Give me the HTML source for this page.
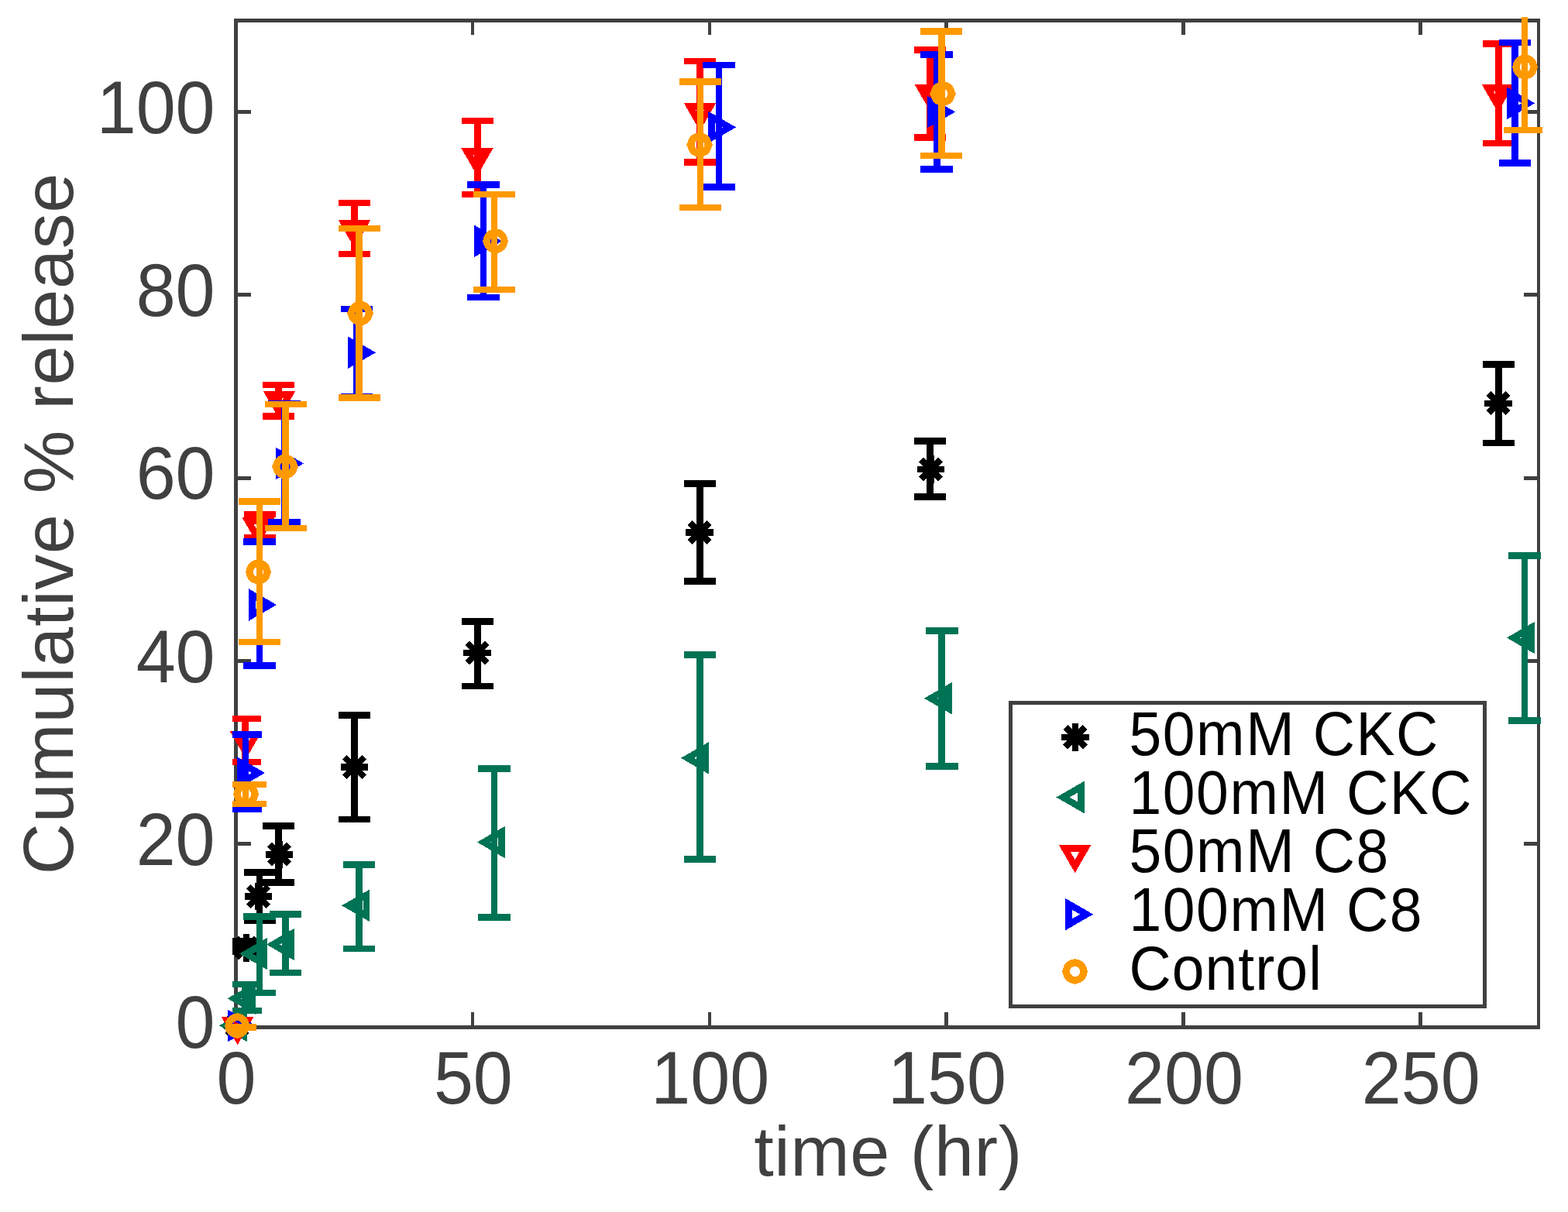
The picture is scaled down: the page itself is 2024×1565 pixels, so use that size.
<!DOCTYPE html>
<html lang="en">
<head>
<meta charset="utf-8">
<title>Cumulative % release vs time (hr)</title>
<style>
html,body{margin:0;padding:0;background:#ffffff;}
body{width:2024px;height:1565px;overflow:hidden;}
svg{display:block;}
text{font-family:"Liberation Sans","DejaVu Sans",sans-serif;}
.tick{font-size:91.67px;fill:#404040;}
.lab{font-size:91.67px;fill:#404040;}
.leg{font-size:75px;fill:#000000;}
</style>
</head>
<body>
<svg width="2024" height="1565" viewBox="0 0 2024 1565">
<defs><clipPath id="axclip"><rect x="299.9" y="22.0" width="1691.2" height="1309"/></clipPath></defs>
<rect x="0" y="0" width="2024" height="1565" fill="#ffffff"/>

<g fill="#404040">
<rect x="302" y="24" width="1686" height="5"/>
<rect x="302" y="1324" width="1686" height="5"/>
<rect x="302" y="24" width="5" height="1305"/>
<rect x="1984" y="24" width="4" height="1305"/>
<rect x="608" y="1307" width="4" height="17"/>
<rect x="608" y="29" width="4" height="16"/>
<rect x="914" y="1307" width="4" height="17"/>
<rect x="914" y="29" width="4" height="16"/>
<rect x="1219" y="1307" width="5" height="17"/>
<rect x="1219" y="29" width="5" height="16"/>
<rect x="1525" y="1307" width="5" height="17"/>
<rect x="1525" y="29" width="5" height="16"/>
<rect x="1831" y="1307" width="5" height="17"/>
<rect x="1831" y="29" width="5" height="16"/>
<rect x="307" y="1087" width="17" height="5"/>
<rect x="1967" y="1087" width="17" height="5"/>
<rect x="307" y="851" width="17" height="5"/>
<rect x="1967" y="851" width="17" height="5"/>
<rect x="307" y="615" width="17" height="5"/>
<rect x="1967" y="615" width="17" height="5"/>
<rect x="307" y="378" width="17" height="5"/>
<rect x="1967" y="378" width="17" height="5"/>
<rect x="307" y="142" width="17" height="5"/>
<rect x="1967" y="142" width="17" height="5"/>
</g>
<g class="tick" text-anchor="middle">
<text transform="translate(305 1424.7) scale(1 1.045)">0</text>
<text transform="translate(610.86 1424.7) scale(1 1.045)">50</text>
<text transform="translate(916.72 1424.7) scale(1 1.045)">100</text>
<text transform="translate(1222.58 1424.7) scale(1 1.045)">150</text>
<text transform="translate(1528.44 1424.7) scale(1 1.045)">200</text>
<text transform="translate(1834.3 1424.7) scale(1 1.045)">250</text>
</g>
<g class="tick" text-anchor="end">
<text transform="translate(277.6 1353.3) scale(1 1.045)">0</text>
<text transform="translate(277.6 1116.98) scale(1 1.045)">20</text>
<text transform="translate(277.6 880.66) scale(1 1.045)">40</text>
<text transform="translate(277.6 644.34) scale(1 1.045)">60</text>
<text transform="translate(277.6 408.02) scale(1 1.045)">80</text>
<text transform="translate(277.6 171.7) scale(1 1.045)">100</text>
</g>
<text class="lab" style="letter-spacing:0.6px" transform="translate(973.2 1517.6)">time (hr)</text>
<text class="lab" style="letter-spacing:0.74px" transform="translate(93.9 1129.3) rotate(-90)">Cumulative % release</text>
<g id="s-black" shape-rendering="crispEdges">
<path clip-path="url(#axclip)" d="M304.5 1326.5V1326.5M284 1326.5H325M284 1326.5H325M317.5 1215.6V1228.4M297 1215.6H338M297 1228.4H338M335 1126.5V1188.6M314.5 1126.5H355.5M314.5 1188.6H355.5M359.6 1066.5V1139.4M339.1 1066.5H380.1M339.1 1139.4H380.1M457.5 923.5V1057.9M437 923.5H478M437 1057.9H478M616.5 802.5V886M596 802.5H637M596 886H637M903.5 624.5V750.5M883 624.5H924M883 750.5H924M1200.5 569.5V641.5M1180 569.5H1221M1180 641.5H1221M1934.5 470.5V571.8M1914 470.5H1955M1914 571.8H1955" stroke="#000000" stroke-width="8.4" fill="none"/>
<path d="M288.5 1324.5H324.1M306.3 1306.7V1342.3M293.71 1311.91L318.89 1337.09M293.71 1337.09L318.89 1311.91" stroke="#000000" stroke-width="8.4" fill="none"/>
<path d="M300.2 1224H335.8M318 1206.2V1241.8M305.41 1211.41L330.59 1236.59M305.41 1236.59L330.59 1211.41" stroke="#000000" stroke-width="8.4" fill="none"/>
<path d="M315.7 1157.5H351.3M333.5 1139.7V1175.3M320.91 1144.91L346.09 1170.09M320.91 1170.09L346.09 1144.91" stroke="#000000" stroke-width="8.4" fill="none"/>
<path d="M342.7 1103.3H378.3M360.5 1085.5V1121.1M347.91 1090.71L373.09 1115.89M347.91 1115.89L373.09 1090.71" stroke="#000000" stroke-width="8.4" fill="none"/>
<path d="M439.7 990.5H475.3M457.5 972.7V1008.3M444.91 977.91L470.09 1003.09M444.91 1003.09L470.09 977.91" stroke="#000000" stroke-width="8.4" fill="none"/>
<path d="M598.2 843H633.8M616 825.2V860.8M603.41 830.41L628.59 855.59M603.41 855.59L628.59 830.41" stroke="#000000" stroke-width="8.4" fill="none"/>
<path d="M885.2 687.4H920.8M903 669.6V705.2M890.41 674.81L915.59 699.99M890.41 699.99L915.59 674.81" stroke="#000000" stroke-width="8.4" fill="none"/>
<path d="M1183.7 606H1219.3M1201.5 588.2V623.8M1188.91 593.41L1214.09 618.59M1188.91 618.59L1214.09 593.41" stroke="#000000" stroke-width="8.4" fill="none"/>
<path d="M1916.2 520.8H1951.8M1934 503V538.6M1921.41 508.21L1946.59 533.39M1921.41 533.39L1946.59 508.21" stroke="#000000" stroke-width="8.4" fill="none"/>
</g>
<g id="s-green" shape-rendering="crispEdges">
<path clip-path="url(#axclip)" d="M304.5 1326.5V1326.5M283.6 1326.5H325.4M283.6 1326.5H325.4M316.4 1271V1304.8M296.1 1271H337.9M296.1 1304.8H337.9M335 1183.6V1282M314.1 1183.6H355.9M314.1 1282H355.9M368.5 1180.5V1256M347.6 1180.5H389.4M347.6 1256H389.4M463.5 1116.5V1225M442.6 1116.5H484.4M442.6 1225H484.4M638 992.5V1184.5M617.1 992.5H658.9M617.1 1184.5H658.9M903.4 845.4V1109.5M882.5 845.4H924.3M882.5 1109.5H924.3M1215.6 814.4V989.5M1194.7 814.4H1236.5M1194.7 989.5H1236.5M1968 717.3V930.5M1947.1 717.3H1988.9M1947.1 930.5H1988.9" stroke="#007355" stroke-width="8.4" fill="none"/>
<polygon points="291.4,1324.3 314.65,1310.88 314.65,1337.72" stroke="#007355" stroke-width="8.6" stroke-linejoin="miter" stroke-miterlimit="10" fill="none"/>
<polygon points="302.2,1289.3 325.45,1275.88 325.45,1302.72" stroke="#007355" stroke-width="8.6" stroke-linejoin="miter" stroke-miterlimit="10" fill="none"/>
<polygon points="317.5,1231.5 340.75,1218.08 340.75,1244.92" stroke="#007355" stroke-width="8.6" stroke-linejoin="miter" stroke-miterlimit="10" fill="none"/>
<polygon points="352.5,1219.5 375.75,1206.08 375.75,1232.92" stroke="#007355" stroke-width="8.6" stroke-linejoin="miter" stroke-miterlimit="10" fill="none"/>
<polygon points="449.7,1169.3 472.95,1155.88 472.95,1182.72" stroke="#007355" stroke-width="8.6" stroke-linejoin="miter" stroke-miterlimit="10" fill="none"/>
<polygon points="624.5,1087.5 647.75,1074.08 647.75,1100.92" stroke="#007355" stroke-width="8.6" stroke-linejoin="miter" stroke-miterlimit="10" fill="none"/>
<polygon points="887.5,978.8 910.75,965.38 910.75,992.22" stroke="#007355" stroke-width="8.6" stroke-linejoin="miter" stroke-miterlimit="10" fill="none"/>
<polygon points="1201.5,901.7 1224.75,888.28 1224.75,915.12" stroke="#007355" stroke-width="8.6" stroke-linejoin="miter" stroke-miterlimit="10" fill="none"/>
<polygon points="1953.5,823.5 1976.75,810.08 1976.75,836.92" stroke="#007355" stroke-width="8.6" stroke-linejoin="miter" stroke-miterlimit="10" fill="none"/>
</g>
<g id="s-red" shape-rendering="crispEdges">
<path clip-path="url(#axclip)" d="M304.5 1326.5V1326.5M284 1326.5H325M284 1326.5H325M316.5 928V983.9M296 928H337M296 983.9H337M335 664V694.5M314.5 664H355.5M314.5 694.5H355.5M359.6 496.9V537.5M339.1 496.9H380.1M339.1 537.5H380.1M457.5 262V328M437 262H478M437 328H478M616.5 156V251M596 156H637M596 251H637M903.5 79V209.5M883 79H924M883 209.5H924M1200.5 64.4V177.5M1180 64.4H1221M1180 177.5H1221M1934.5 56.5V185M1914 56.5H1955M1914 185H1955" stroke="#ff0000" stroke-width="8.4" fill="none"/>
<polygon points="306.6,1340.5 293.18,1317.25 320.02,1317.25" stroke="#ff0000" stroke-width="8.6" stroke-linejoin="miter" stroke-miterlimit="10" fill="none"/>
<polygon points="317.4,971.5 303.98,948.25 330.82,948.25" stroke="#ff0000" stroke-width="8.6" stroke-linejoin="miter" stroke-miterlimit="10" fill="none"/>
<polygon points="333.5,696 320.08,672.75 346.92,672.75" stroke="#ff0000" stroke-width="8.6" stroke-linejoin="miter" stroke-miterlimit="10" fill="none"/>
<polygon points="360.5,532.5 347.08,509.25 373.92,509.25" stroke="#ff0000" stroke-width="8.6" stroke-linejoin="miter" stroke-miterlimit="10" fill="none"/>
<polygon points="457.5,311.5 444.08,288.25 470.92,288.25" stroke="#ff0000" stroke-width="8.6" stroke-linejoin="miter" stroke-miterlimit="10" fill="none"/>
<polygon points="616,218.5 602.58,195.25 629.42,195.25" stroke="#ff0000" stroke-width="8.6" stroke-linejoin="miter" stroke-miterlimit="10" fill="none"/>
<polygon points="903.5,160.5 890.08,137.25 916.92,137.25" stroke="#ff0000" stroke-width="8.6" stroke-linejoin="miter" stroke-miterlimit="10" fill="none"/>
<polygon points="1201.4,136.5 1187.98,113.25 1214.82,113.25" stroke="#ff0000" stroke-width="8.6" stroke-linejoin="miter" stroke-miterlimit="10" fill="none"/>
<polygon points="1933.5,136.5 1920.08,113.25 1946.92,113.25" stroke="#ff0000" stroke-width="8.6" stroke-linejoin="miter" stroke-miterlimit="10" fill="none"/>
</g>
<g id="s-blue" shape-rendering="crispEdges">
<path clip-path="url(#axclip)" d="M304.5 1326.5V1326.5M283.65 1326.5H325.35M283.65 1326.5H325.35M316.7 948.5V1044.4M295.85 948.5H337.55M295.85 1044.4H337.55M335 699.5V859.5M314.15 699.5H355.85M314.15 859.5H355.85M367.2 521.3V674M346.35 521.3H388.05M346.35 674H388.05M460.5 399V512.3M439.65 399H481.35M439.65 512.3H481.35M624 238.4V384M603.15 238.4H644.85M603.15 384H644.85M928 84V241.5M907.15 84H948.85M907.15 241.5H948.85M1209.3 70.5V218.4M1188.45 70.5H1230.15M1188.45 218.4H1230.15M1955.5 55V210.5M1934.65 55H1976.35M1934.65 210.5H1976.35" stroke="#0000ff" stroke-width="8.4" fill="none"/>
<polygon points="321.4,1324.5 298.15,1311.08 298.15,1337.92" stroke="#0000ff" stroke-width="8.6" stroke-linejoin="miter" stroke-miterlimit="10" fill="none"/>
<polygon points="333.5,998 310.25,984.58 310.25,1011.42" stroke="#0000ff" stroke-width="8.6" stroke-linejoin="miter" stroke-miterlimit="10" fill="none"/>
<polygon points="348.5,781 325.25,767.58 325.25,794.42" stroke="#0000ff" stroke-width="8.6" stroke-linejoin="miter" stroke-miterlimit="10" fill="none"/>
<polygon points="383.5,598.5 360.25,585.08 360.25,611.92" stroke="#0000ff" stroke-width="8.6" stroke-linejoin="miter" stroke-miterlimit="10" fill="none"/>
<polygon points="476.5,455.2 453.25,441.78 453.25,468.62" stroke="#0000ff" stroke-width="8.6" stroke-linejoin="miter" stroke-miterlimit="10" fill="none"/>
<polygon points="639.5,311.4 616.25,297.98 616.25,324.82" stroke="#0000ff" stroke-width="8.6" stroke-linejoin="miter" stroke-miterlimit="10" fill="none"/>
<polygon points="941.5,164.4 918.25,150.98 918.25,177.82" stroke="#0000ff" stroke-width="8.6" stroke-linejoin="miter" stroke-miterlimit="10" fill="none"/>
<polygon points="1224.5,144.5 1201.25,131.08 1201.25,157.92" stroke="#0000ff" stroke-width="8.6" stroke-linejoin="miter" stroke-miterlimit="10" fill="none"/>
<polygon points="1972.5,133.3 1949.25,119.88 1949.25,146.72" stroke="#0000ff" stroke-width="8.6" stroke-linejoin="miter" stroke-miterlimit="10" fill="none"/>
</g>
<g id="s-orange" shape-rendering="crispEdges">
<path clip-path="url(#axclip)" d="M304.1 1326.5V1326.5M277.1 1326.5H331.1M277.1 1326.5H331.1M316.8 1013V1038M289.8 1013H343.8M289.8 1038H343.8M335 647.4V829M308 647.4H362M308 829H362M368.5 522V681.9M341.5 522H395.5M341.5 681.9H395.5M463.5 295V513.5M436.5 295H490.5M436.5 513.5H490.5M638 251V374M611 251H665M611 374H665M904 105.5V268M877 105.5H931M877 268H931M1215.3 40.5V201M1188.3 40.5H1242.3M1188.3 201H1242.3M1968 5V168M1941 168H1995" stroke="#ff9900" stroke-width="8.4" fill="none"/>
<circle cx="306.2" cy="1324.5" r="11.2" stroke="#ff9900" stroke-width="9.3" fill="none"/><path d="M289.5 1324.5h2.5M320.4 1324.5h2.5M306.2 1307.8v2.5M306.2 1338.7v2.5" stroke="#ff9900" stroke-width="2.6" fill="none"/>
<circle cx="317.5" cy="1025.5" r="11.2" stroke="#ff9900" stroke-width="9.3" fill="none"/><path d="M300.8 1025.5h2.5M331.7 1025.5h2.5M317.5 1008.8v2.5M317.5 1039.7v2.5" stroke="#ff9900" stroke-width="2.6" fill="none"/>
<circle cx="333.5" cy="738.5" r="11.2" stroke="#ff9900" stroke-width="9.3" fill="none"/><path d="M316.8 738.5h2.5M347.7 738.5h2.5M333.5 721.8v2.5M333.5 752.7v2.5" stroke="#ff9900" stroke-width="2.6" fill="none"/>
<circle cx="368" cy="602.5" r="11.2" stroke="#ff9900" stroke-width="9.3" fill="none"/><path d="M351.3 602.5h2.5M382.2 602.5h2.5M368 585.8v2.5M368 616.7v2.5" stroke="#ff9900" stroke-width="2.6" fill="none"/>
<circle cx="465" cy="404.5" r="11.2" stroke="#ff9900" stroke-width="9.3" fill="none"/><path d="M448.3 404.5h2.5M479.2 404.5h2.5M465 387.8v2.5M465 418.7v2.5" stroke="#ff9900" stroke-width="2.6" fill="none"/>
<circle cx="639.6" cy="311.2" r="11.2" stroke="#ff9900" stroke-width="9.3" fill="none"/><path d="M622.9 311.2h2.5M653.8 311.2h2.5M639.6 294.5v2.5M639.6 325.4v2.5" stroke="#ff9900" stroke-width="2.6" fill="none"/>
<circle cx="903" cy="187" r="11.2" stroke="#ff9900" stroke-width="9.3" fill="none"/><path d="M886.3 187h2.5M917.2 187h2.5M903 170.3v2.5M903 201.2v2.5" stroke="#ff9900" stroke-width="2.6" fill="none"/>
<circle cx="1217" cy="121" r="11.2" stroke="#ff9900" stroke-width="9.3" fill="none"/><path d="M1200.3 121h2.5M1231.2 121h2.5M1217 104.3v2.5M1217 135.2v2.5" stroke="#ff9900" stroke-width="2.6" fill="none"/>
<circle cx="1968.5" cy="86.5" r="11.2" stroke="#ff9900" stroke-width="9.3" fill="none"/><path d="M1951.8 86.5h2.5M1982.7 86.5h2.5M1968.5 69.8v2.5M1968.5 100.7v2.5" stroke="#ff9900" stroke-width="2.6" fill="none"/>
</g>
<rect x="1304.5" y="907.5" width="612" height="392" fill="#ffffff" stroke="#404040" stroke-width="5"/>
<g shape-rendering="crispEdges">
<path d="M1370.2 951.9H1405.8M1388 934.1V969.7M1375.41 939.31L1400.59 964.49M1375.41 964.49L1400.59 939.31" stroke="#000000" stroke-width="8.4" fill="none"/>
<polygon points="1372.1,1029.5 1395.35,1016.08 1395.35,1042.92" stroke="#007355" stroke-width="8.6" stroke-linejoin="miter" stroke-miterlimit="10" fill="none"/>
<polygon points="1387.6,1118.5 1374.18,1095.25 1401.02,1095.25" stroke="#ff0000" stroke-width="8.6" stroke-linejoin="miter" stroke-miterlimit="10" fill="none"/>
<polygon points="1402.5,1180.6 1379.25,1167.18 1379.25,1194.02" stroke="#0000ff" stroke-width="8.6" stroke-linejoin="miter" stroke-miterlimit="10" fill="none"/>
<circle cx="1387.6" cy="1254.4" r="11.2" stroke="#ff9900" stroke-width="9.3" fill="none"/><path d="M1370.9 1254.4h2.5M1401.8 1254.4h2.5M1387.6 1237.7v2.5M1387.6 1268.6v2.5" stroke="#ff9900" stroke-width="2.6" fill="none"/>
</g>
<text class="leg" style="letter-spacing:1.6px" transform="translate(1457.5 975.2) scale(1 1.06)">50mM CKC</text>
<text class="leg" style="letter-spacing:1.6px" transform="translate(1457.5 1050.82) scale(1 1.06)">100mM CKC</text>
<text class="leg" style="letter-spacing:1.6px" transform="translate(1457.5 1126.44) scale(1 1.06)">50mM C8</text>
<text class="leg" style="letter-spacing:1.6px" transform="translate(1457.5 1202.06) scale(1 1.06)">100mM C8</text>
<text class="leg" style="letter-spacing:1.1px" transform="translate(1457.5 1277.68) scale(1 1.06)">Control</text>
</svg>
</body>
</html>
